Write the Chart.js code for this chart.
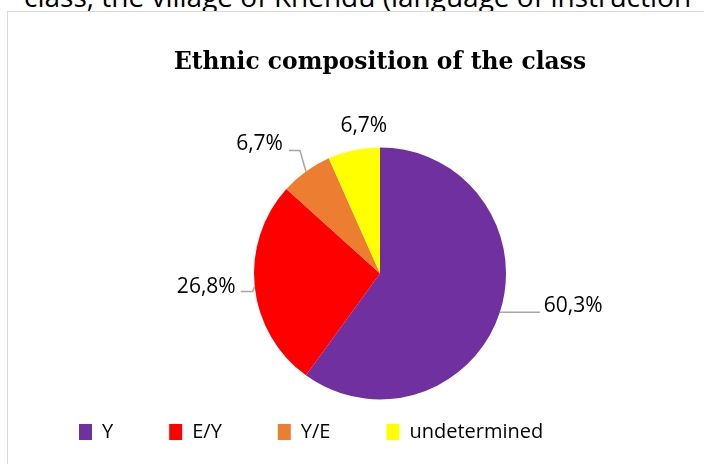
<!DOCTYPE html>
<html>
<head>
<meta charset="utf-8">
<script src="https://cdn.jsdelivr.net/npm/chart.js@4/dist/chart.umd.min.js"></script>
<style>
  html, body { margin: 0; padding: 0; background: #fff; overflow: hidden; width: 704px; height: 464px; }
  #header { position: absolute; left: 24px; top: -18px; font-family: "Open Sans", sans-serif; font-size: 28px; line-height: 28px; color: #000; white-space: nowrap; }
  #frame { position: absolute; left: 7px; top: 11px; width: 820px; height: 520px; border: 1px solid #d9d9d9; background: #fff; }
  #wrap { position: absolute; left: 8px; top: 12px; width: 744px; height: 440px; }
</style>
</head>
<body>
<div id="header">class, the village of Khendu (language of instruction</div>
<div id="frame"></div>
<div id="wrap"><canvas id="c" width="744" height="440"></canvas></div>
<script>
// ---- data ----
const categories = ['Y', 'E/Y', 'Y/E', 'undetermined'];
const shares = [60.3, 26.8, 6.7, 6.7];
const shareLabels = ['60,3%', '26,8%', '6,7%', '6,7%'];
const sliceColors = ['#7030A0', '#FF0000', '#ED7D31', '#FFFF00'];
const chartTitle = 'Ethnic composition of the class';

// label placement relative to the slice's outer mid-point (style only)
const labelLayout = [
  { line: [[0, 0], [40, 0]], text: [44, 0], align: 'left' },
  { line: [[0, 0], [-2, 5], [-14, 5]], text: [-19, 6], align: 'right' },
  { line: [[0, 0], [-6, -21], [-17, -21]], text: [-23, -21], align: 'right' },
  { line: null, text: [10, -18], align: 'center' }
];

const sliceLabelPlugin = {
  id: 'sliceLabels',
  afterDatasetsDraw(chart) {
    const ctx = chart.ctx;
    const meta = chart.getDatasetMeta(0);
    meta.data.forEach((arc, i) => {
      const p = arc.getProps(['x', 'y', 'startAngle', 'endAngle', 'outerRadius'], true);
      const mid = (p.startAngle + p.endAngle) / 2;
      const ex = p.x + Math.cos(mid) * p.outerRadius;
      const ey = p.y + Math.sin(mid) * p.outerRadius;
      const spec = labelLayout[i];
      ctx.save();
      if (spec.line) {
        ctx.strokeStyle = '#a6a6a6';
        ctx.lineWidth = 1.5;
        ctx.beginPath();
        spec.line.forEach(([dx, dy], k) => {
          if (k === 0) ctx.moveTo(ex + dx, ey + dy); else ctx.lineTo(ex + dx, ey + dy);
        });
        ctx.stroke();
      }
      ctx.fillStyle = '#000';
      ctx.font = '21px "Open Sans"';
      ctx.textAlign = spec.align;
      ctx.textBaseline = 'alphabetic';
      ctx.fillText(shareLabels[i], ex + spec.text[0], ey + spec.text[1]);
      ctx.restore();
    });
  }
};

new Chart(document.getElementById('c'), {
  type: 'pie',
  data: {
    labels: categories,
    datasets: [{
      data: shares,
      backgroundColor: sliceColors,
      borderWidth: 0,
      radius: 126
    }]
  },
  options: {
    responsive: false,
    animation: false,
    layout: { padding: { left: 15, right: 15, top: 0, bottom: 0 } },
    plugins: {
      tooltip: { enabled: false },
      title: {
        display: true,
        text: chartTitle,
        color: '#000',
        font: { family: '"DejaVu Serif"', size: 23.4, weight: 'bold', lineHeight: 1.2 },
        padding: { top: 37, bottom: 103.7 }
      },
      legend: {
        position: 'bottom',
        align: 'start',
        labels: {
          boxWidth: 13,
          boxHeight: 16,
          padding: 56,
          color: '#000',
          font: { family: '"Open Sans"', size: 20 }
        }
      }
    }
  },
  plugins: [sliceLabelPlugin]
});
</script>
</body>
</html>
